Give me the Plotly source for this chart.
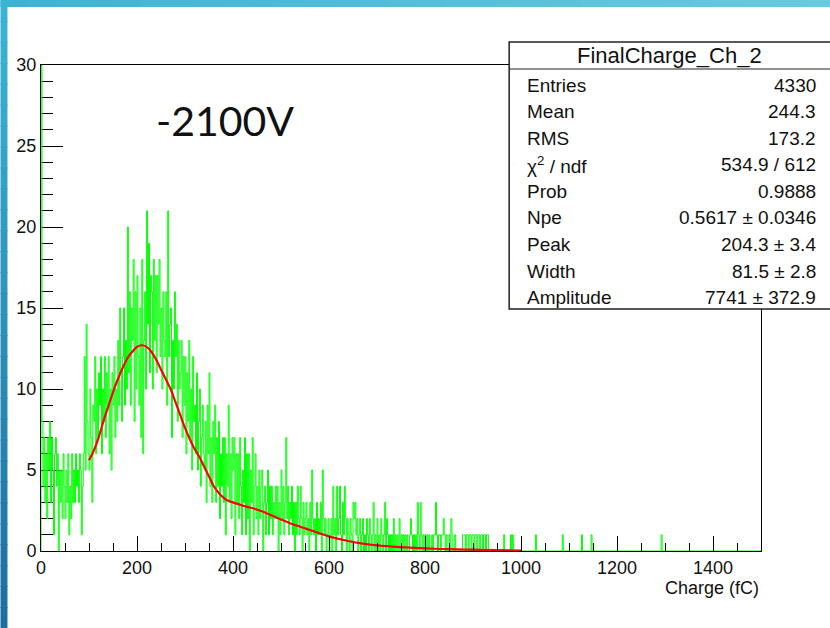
import plotly.graph_objects as go

# ---------------- data ----------------
bin_width_fc = 2
x_max_fc = 1500
# histogram counts for 0-1000 fC, 2 fC bins (first bin runs off the top)
counts_0_1000 = [
    30, 8, 4, 7, 3,   6, 2, 7, 5, 8,   3, 7, 5, 1, 6,   7, 4, 6, 0, 5,   3, 5, 2, 6, 4,
    2, 5, 3, 6, 1,    4, 2, 6, 3, 5,   3, 6, 4, 5, 3,   6, 5, 1, 4, 6,   12, 5, 14, 8, 6,
    5, 10, 7, 3, 9,   8, 12, 6, 10, 7, 11, 9, 12, 6, 10, 8, 12, 7, 11, 9, 12, 6, 10, 5, 11,
    9, 12, 7, 10, 8,  13, 9, 15, 11, 8, 12, 15, 9, 13, 10, 20, 11, 16, 9, 15, 13, 18, 8, 16, 10,
    17, 12, 9, 15, 7, 18, 6, 13, 16, 10, 21, 14, 19, 11, 17, 16, 10, 18, 13, 17, 11, 17, 14, 18, 12,
    15, 10, 16, 13, 12, 16, 9, 21, 12, 14, 15, 7, 13, 10, 16, 12, 14, 8, 13, 10, 11, 13, 7, 12, 9,
    12, 6, 11, 8, 13, 7, 10, 5, 12, 8,  9, 6, 11, 5, 8,  10, 4, 7, 9, 6,   5, 8, 3, 9, 6,
    11, 4, 7, 3, 8,   6, 9, 3, 7, 4,   8, 2, 6, 4, 7,   3, 7, 1, 6, 4,   9, 3, 6, 2, 7,
    5, 7, 1, 6, 3,    6, 2, 7, 4, 1,   5, 3, 7, 1, 6,   2, 6, 0, 5, 3,   7, 1, 4, 6, 2,
    4, 1, 5, 2, 4,    5, 0, 3, 4, 1,   3, 5, 1, 4, 2,   4, 1, 3, 2, 4,   2, 4, 0, 3, 1,
    5, 2, 4, 1, 3,    7, 2, 4, 1, 3,   2, 4, 1, 3, 0,   3, 1, 4, 2, 1,   4, 2, 0, 3, 1,
    2, 3, 1, 2, 0,    3, 1, 5, 2, 1,   2, 0, 3, 1, 2,   1, 3, 0, 5, 2,   1, 2, 0, 1, 2,
    0, 1, 2, 0, 4,    1, 2, 0, 4, 1,   2, 4, 1, 0, 3,   1, 4, 2, 0, 2,   1, 0, 2, 1, 0,
    3, 2, 3, 1, 2,    0, 1, 2, 0, 1,   2, 0, 1, 0, 2,   1, 0, 2, 1, 0,   1, 3, 0, 1, 0,
    2, 0, 1, 0, 2,    1, 0, 1, 3, 0,   2, 1, 0, 1, 0,   1, 0, 2, 0, 1,   0, 1, 0, 2, 0,
    1, 0, 1, 0, 1,    0, 1, 0, 0, 1,   2, 1, 0, 1, 0,   1, 0, 3, 1, 0,   3, 1, 0, 1, 0,
    1, 0, 1, 0, 1,    0, 0, 1, 0, 1,   1, 3, 1, 0, 1,   1, 0, 1, 1, 2,   1, 0, 1, 0, 0,
    1, 0, 2, 1, 0,    0, 1, 0, 0, 0,   0, 0, 0, 0, 1,   1, 1, 0, 1, 1,   0, 1, 1, 0, 1,
    1, 0, 1, 1, 0,    1, 1, 0, 1, 1,   0, 1, 1, 0, 1,   1, 0, 0, 0, 0,   0, 0, 0, 0, 0,
    0, 0, 0, 0, 0,    0, 0, 1, 0, 0,   0, 0, 0, 0, 1,   0, 1, 0, 0, 0,   0, 0, 0, 0, 0,
]
# isolated single entries above 1000 fC
tail_hits_fc = [1031, 1087, 1127, 1146, 1293]

# fit function
fit_x = [100, 110, 120, 130, 140, 150, 160, 170, 180, 190, 200, 210, 220, 230, 240,
         250, 260, 270, 280, 290, 300, 310, 320, 330, 340, 350, 360, 370, 380, 390,
         400, 420, 440, 460, 480, 500, 520, 540, 560, 580, 600, 620, 640, 660, 690,
         720, 760, 800, 850, 900, 950, 1000]
fit_y = [5.6, 6.2, 7.0, 8.0, 8.9, 9.8, 10.6, 11.3, 11.9, 12.3, 12.6, 12.7, 12.6, 12.3, 11.8,
         11.2, 10.6, 10.0, 9.2, 8.4, 7.6, 6.9, 6.3, 5.8, 5.2, 4.6, 4.0, 3.6, 3.3, 3.1,
         3.0, 2.8, 2.65, 2.45, 2.2, 1.95, 1.7, 1.5, 1.3, 1.1, 0.9, 0.75, 0.62, 0.5, 0.38,
         0.3, 0.22, 0.16, 0.11, 0.08, 0.05, 0.03]

x_ticks = [0, 200, 400, 600, 800, 1000, 1200, 1400]
y_ticks = [0, 5, 10, 15, 20, 25, 30]

stats_title = "FinalCharge_Ch_2"
stat_labels = ["Entries", "Mean", "RMS", "χ<sup>2</sup> / ndf", "Prob", "Npe", "Peak", "Width", "Amplitude"]
stat_values = ["4330", "244.3", "173.2", "534.9 / 612", "0.9888", "0.5617 ± 0.0346",
               "204.3 ± 3.4", "81.5 ± 2.8", "7741 ± 372.9"]
voltage_label = "-2100V"
x_title = "Charge (fC)"

# ---------------- build histogram outline (explicit steps) ----------------
n_bins = x_max_fc // bin_width_fc
counts = list(counts_0_1000) + [0] * (n_bins - len(counts_0_1000))
for fc in tail_hits_fc:
    counts[int(fc // bin_width_fc)] = 1
hx, hy = [0], [0]
for i, c in enumerate(counts):
    lo, hi = i * bin_width_fc, (i + 1) * bin_width_fc
    hx += [lo, hi]
    hy += [c, c]
hx.append(n_bins * bin_width_fc)
hy.append(0)

# ---------------- geometry ----------------
W, H = 830, 628
L, R, T, B = 40.55, 69, 65, 77
PW = W - L - R
PH = H - T - B


def px(xp):
    return (xp - L) / PW


def py(yp):
    return (H - B - yp) / PH


fig = go.Figure()
fig.add_trace(go.Scatter(x=hx, y=hy, mode="lines",
                         line=dict(color="#00ff00", width=1, simplify=False),
                         hoverinfo="skip", showlegend=False))
fig.add_trace(go.Scatter(x=fit_x, y=fit_y, mode="lines",
                         line=dict(color="#ff0000", width=2.2, shape="spline"),
                         hoverinfo="skip", showlegend=False))

shapes = []
# blue slide border (top and left), drawn as gradient strips
nseg = 30
c_top0, c_top1 = (60, 180, 209), (104, 202, 224)
for i in range(nseg):
    t = i / (nseg - 1)
    c = tuple(int(round(a + (b - a) * t)) for a, b in zip(c_top0, c_top1))
    shapes.append(dict(type="rect", xref="paper", yref="paper",
                       x0=px(W * i / nseg), x1=px(W * (i + 1) / nseg + 1),
                       y0=py(7), y1=py(0), line=dict(width=0),
                       fillcolor="rgb(%d,%d,%d)" % c, layer="above"))
c_l0, c_l1 = (60, 180, 209), (30, 110, 160)
for i in range(nseg):
    t = i / (nseg - 1)
    c = tuple(int(round(a + (b - a) * t)) for a, b in zip(c_l0, c_l1))
    shapes.append(dict(type="rect", xref="paper", yref="paper",
                       x0=px(0), x1=px(7),
                       y0=py(H * (i + 1) / nseg + 1), y1=py(H * i / nseg),
                       line=dict(width=0),
                       fillcolor="rgb(%d,%d,%d)" % c, layer="above"))

# stats box (runs past the right edge of the picture)
bx0, bx1, by0, by1, bsep = 509, 845, 42, 309, 69
shapes.append(dict(type="rect", xref="paper", yref="paper",
                   x0=px(bx0), x1=px(bx1), y0=py(by1), y1=py(by0),
                   line=dict(color="#222", width=1.5), fillcolor="white", layer="above"))
shapes.append(dict(type="line", xref="paper", yref="paper",
                   x0=px(bx0), x1=px(bx1), y0=py(bsep), y1=py(bsep),
                   line=dict(color="#222", width=1.2), layer="above"))

ann = []
font_txt = "Liberation Sans, Arial, sans-serif"
ann.append(dict(text=stats_title, x=px(669), y=py(56), xref="paper", yref="paper",
                xanchor="center", yanchor="middle", showarrow=False,
                font=dict(family=font_txt, size=22, color="#111")))
row0, dy = 85, 26.6
for i, (lab, val) in enumerate(zip(stat_labels, stat_values)):
    yy = row0 + i * dy
    ann.append(dict(text=lab, x=px(525), y=py(yy), xref="paper", yref="paper",
                    xanchor="left", yanchor="middle", showarrow=False,
                    font=dict(family=font_txt, size=19, color="#111")))
    ann.append(dict(text=val, x=px(818), y=py(yy), xref="paper", yref="paper",
                    xanchor="right", yanchor="middle", showarrow=False,
                    font=dict(family=font_txt, size=19, color="#111")))

ann.append(dict(text=voltage_label, x=px(225), y=py(120), xref="paper", yref="paper",
                xanchor="center", yanchor="middle", showarrow=False,
                font=dict(family="Lato, Carlito, sans-serif", size=41, color="#111")))
ann.append(dict(text=x_title, x=px(761), y=py(588), xref="paper", yref="paper",
                xanchor="right", yanchor="middle", showarrow=False,
                font=dict(family=font_txt, size=18, color="#111")))

fig.update_layout(
    width=W, height=H, autosize=False,
    margin=dict(l=L, r=R, t=T, b=B, pad=0),
    paper_bgcolor="white", plot_bgcolor="white",
    shapes=shapes, annotations=ann, showlegend=False,
    font=dict(family=font_txt, color="#111"),
    xaxis=dict(range=[0, x_max_fc], tickmode="array", tickvals=x_ticks,
               ticktext=[str(v) for v in x_ticks],
               ticks="inside", ticklen=15, tickwidth=1, tickcolor="black",
               showline=True, linecolor="black", linewidth=1, mirror=True,
               showgrid=False, zeroline=False,
               tickfont=dict(family=font_txt, size=18, color="#111"),
               minor=dict(tickmode="linear", tick0=0, dtick=50, ticks="inside", ticklen=8,
                          tickwidth=1, tickcolor="black", showgrid=False)),
    yaxis=dict(range=[0, 30], tickmode="array", tickvals=y_ticks,
               ticktext=[str(v) for v in y_ticks], layer="below traces",
               ticks="inside", ticklen=22, tickwidth=1, tickcolor="black",
               showline=True, linecolor="black", linewidth=1, mirror=True,
               showgrid=False, zeroline=False,
               tickfont=dict(family=font_txt, size=18, color="#111"),
               minor=dict(tickmode="linear", tick0=0, dtick=1, ticks="inside", ticklen=12,
                          tickwidth=1, tickcolor="black", showgrid=False)),
)

fig.write_html("out.html", config={"displayModeBar": False},
               post_script="document.body.style.margin='0px';document.body.style.padding='0px';")
